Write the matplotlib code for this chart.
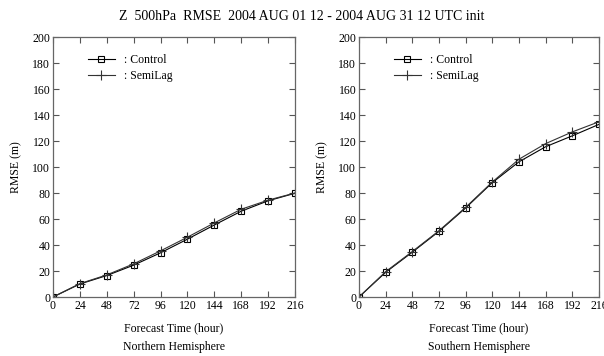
import numpy as np
import matplotlib
matplotlib.use("Agg")
import matplotlib.pyplot as plt

plt.rcParams['font.family'] = ['Liberation Serif', 'DejaVu Serif']

hours = [0, 24, 48, 72, 96, 120, 144, 168, 192, 216]

nh_control = [0, 10, 16.5, 24.5, 34, 44.5, 55.4, 66, 74, 79.8]
nh_semilag = [0, 10.3, 17, 25.5, 35.5, 46, 57, 67.5, 74.5, 80]

sh_control = [0, 19, 34.5, 50.5, 68.5, 88, 104, 115.6, 124, 132.8]
sh_semilag = [0, 19.5, 35, 51, 69, 88.5, 106, 118, 127, 134.8]

title = "Z  500hPa  RMSE  2004 AUG 01 12 - 2004 AUG 31 12 UTC init"
regions = ["Northern Hemisphere", "Southern Hemisphere"]

fig = plt.figure(figsize=(6.04, 3.56), dpi=100)
W, H = 604, 356
boxes = [(53, 37, 295, 297), (359, 37, 599, 297)]
data = [(nh_control, nh_semilag), (sh_control, sh_semilag)]

for (x0, y0, x1, y1), (ctl, sl), reg in zip(boxes, data, regions):
    ax = fig.add_axes([x0 / W, 1 - y1 / H, (x1 - x0) / W, (y1 - y0) / H])
    ax.plot(hours, ctl, color='black', lw=0.8, marker='s', ms=5,
            mfc='none', mec='black', mew=0.8, label=': Control')
    ax.plot(hours, sl, color='#333333', lw=0.8, marker='+', ms=7.5,
            mew=0.8, label=': SemiLag')
    ax.set_xlim(0, 216)
    ax.set_ylim(0, 200)
    ax.set_xticks(hours)
    ax.set_yticks(np.arange(0, 201, 20))
    ax.tick_params(direction='in', length=4, width=0.8, top=True, right=True,
                   labelsize=8.5, pad=2, color='#555555')
    for s in ax.spines.values():
        s.set_color('#666666')
        s.set_linewidth(0.9)
    ax.set_ylabel('RMSE (m)', fontsize=8.5, labelpad=7)
    xc = (x0 + x1) / 2 / W
    fig.text(xc, 1 - 328 / H, 'Forecast Time (hour)', ha='center',
             va='center', fontsize=8.5)
    fig.text(xc, 1 - 347 / H, reg, ha='center', va='center', fontsize=8.5)
    ax.legend(loc='upper left', bbox_to_anchor=(0.1, 0.975), frameon=False,
              fontsize=8.5, handlelength=2.3, handletextpad=0.8,
              labelspacing=0.3)

fig.text(0.5, 1 - 16 / H, title, ha='center', va='center', fontsize=10)

fig.savefig('out.png', dpi=100)
